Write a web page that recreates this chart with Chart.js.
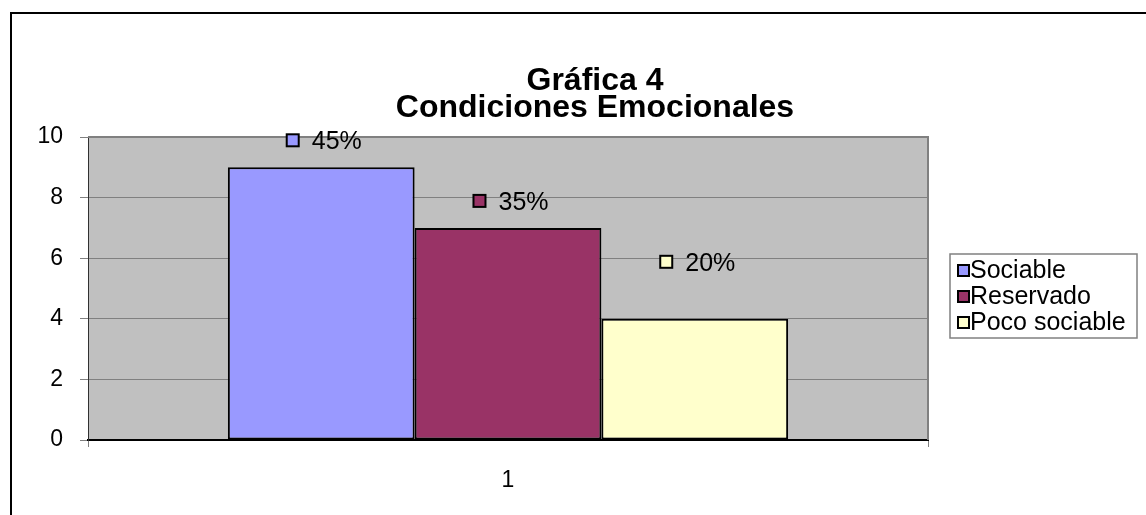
<!DOCTYPE html>
<html>
<head>
<meta charset="utf-8">
<script src="https://cdn.jsdelivr.net/npm/chart.js@4.4.1/dist/chart.umd.min.js"></script>
<style>
  html, body { margin:0; padding:0; background:#fff; }
  #wrap { width:1146px; height:515px; position:relative; }
</style>
</head>
<body>
<div id="wrap"><canvas id="c" width="1146" height="515"></canvas></div>
<script>
const categories = ['1'];
const seriesNames = ['Sociable', 'Reservado', 'Poco sociable'];
const seriesValues = [[9], [7], [4]];
const pctLabels = ['45%', '35%', '20%'];
const titleLines = ['Gráfica 4', 'Condiciones Emocionales'];
const yTicks = [0, 2, 4, 6, 8, 10];

const colors = ['#9999FF', '#993366', '#FFFFCC'];
const labelLift = [26, 26, 56];
const FONT = "'Liberation Sans', Arial, sans-serif";

const frame = {
  id:'frame',
  beforeDraw(chart) {
    const {ctx, chartArea:a} = chart;
    ctx.save();
    ctx.fillStyle = '#C0C0C0';
    ctx.fillRect(a.left, a.top, a.right - a.left, a.bottom - a.top);
    ctx.restore();
  },
  afterDatasetsDraw(chart) {
    const {ctx, chartArea:a} = chart;
    ctx.save();
    // plot area border (top / right)
    ctx.strokeStyle = '#808080'; ctx.lineWidth = 2;
    ctx.beginPath();
    ctx.moveTo(a.left, a.top); ctx.lineTo(a.right, a.top); ctx.lineTo(a.right, a.bottom);
    ctx.stroke();
    // data labels
    ctx.font = '25px ' + FONT;
    ctx.textBaseline = 'middle';
    chart.data.datasets.forEach((ds, i) => {
      const bar = chart.getDatasetMeta(i).data[0];
      const txt = pctLabels[i];
      const tw = ctx.measureText(txt).width;
      const w = 12 + 13 + tw;
      const x0 = bar.x - w / 2 + 3;
      const y = bar.y - labelLift[i];
      ctx.fillStyle = ds.backgroundColor;
      ctx.fillRect(x0, y - 7, 12, 12);
      ctx.strokeStyle = '#000'; ctx.lineWidth = 2;
      ctx.strokeRect(x0, y - 7, 12, 12);
      ctx.fillStyle = '#000';
      ctx.textAlign = 'left';
      ctx.fillText(txt, x0 + 25, y + 1);
    });
    ctx.restore();
  },
  afterDraw(chart) {
    const {ctx} = chart;
    ctx.save();
    // outer chart border
    ctx.strokeStyle = '#000'; ctx.lineWidth = 2;
    ctx.beginPath();
    ctx.moveTo(11, 515); ctx.lineTo(11, 13); ctx.lineTo(1146, 13);
    ctx.stroke();
    // title
    ctx.fillStyle = '#000';
    ctx.font = 'bold 32px ' + FONT;
    ctx.textAlign = 'center'; ctx.textBaseline = 'middle';
    ctx.fillText(titleLines[0], 595, 81);
    ctx.fillText(titleLines[1], 595, 108);
    // legend
    const lx = 950, ly = 254, lw = 187, lh = 84;
    ctx.strokeStyle = '#808080'; ctx.lineWidth = 1.5;
    ctx.strokeRect(lx, ly, lw, lh);
    ctx.font = '25px ' + FONT;
    ctx.textAlign = 'left';
    chart.data.datasets.forEach((ds, i) => {
      const y = ly + 16 + i * 26;
      ctx.fillStyle = ds.backgroundColor;
      ctx.fillRect(lx + 8, y - 5, 11, 11);
      ctx.strokeStyle = '#000'; ctx.lineWidth = 2;
      ctx.strokeRect(lx + 8, y - 5, 11, 11);
      ctx.fillStyle = '#000';
      ctx.fillText(ds.label, lx + 20, y + 1);
    });
    ctx.restore();
  }
};

new Chart(document.getElementById('c'), {
  type:'bar',
  data:{
    labels:categories,
    datasets:seriesNames.map((name, i) => ({
      label:name,
      data:seriesValues[i],
      backgroundColor:colors[i],
      borderColor:'#000',
      borderWidth:2,
      borderSkipped:false
    }))
  },
  options:{
    responsive:false,
    animation:false,
    layout:{padding:{left:0, top:137, right:218, bottom:0}},
    categoryPercentage:0.667,
    barPercentage:1,
    plugins:{legend:{display:false}, title:{display:false}, tooltip:{enabled:false}},
    scales:{
      x:{
        afterFit(s) { s.height = 75; },
        grid:{offset:true, drawOnChartArea:false, drawTicks:true, tickLength:7, color:'#808080'},
        border:{color:'#000', width:2},
        ticks:{color:'#000', font:{family:FONT, size:23}, padding:20}
      },
      y:{
        min:0, max:10,
        afterFit(s) { s.width = 88; },
        afterBuildTicks(s) { s.ticks = yTicks.map(v => ({value:v})); },
        grid:{color:'#808080', lineWidth:1, tickLength:8},
        border:{color:'#303030', width:1},
        ticks:{color:'#000', font:{family:FONT, size:23}, padding:17}
      }
    }
  },
  plugins:[frame]
});
</script>
</body>
</html>
